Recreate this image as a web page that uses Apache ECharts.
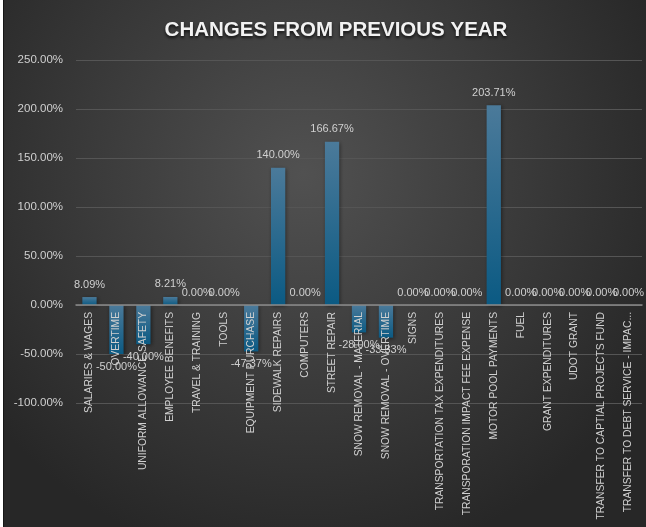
<!DOCTYPE html>
<html>
<head>
<meta charset="utf-8">
<script src="https://cdn.jsdelivr.net/npm/echarts@6/dist/echarts.min.js"></script>
<style>
  html, body { margin: 0; padding: 0; background: #ffffff; }
  #chart { position: absolute; left: 0; top: 0; width: 646px; height: 527px; }
  #edge { position: absolute; left: 0; top: 0; width: 3px; height: 527px; background: #ffffff; border-right: 1px solid #161616; z-index: 5; }
</style>
</head>
<body>
<div id="chart"></div>
<div id="edge"></div>
<script>
// Budget line items
const categories = [
  'SALARIES & WAGES',
  'OVERTIME',
  'UNIFORM ALLOWANCE SAFETY',
  'EMPLOYEE BENEFITS',
  'TRAVEL & TRAINING',
  'TOOLS',
  'EQUIPMENT PURCHASE',
  'SIDEWALK REPAIRS',
  'COMPUTERS',
  'STREET REPAIR',
  'SNOW REMOVAL - MATERIAL',
  'SNOW REMOVAL - OVERTIME',
  'SIGNS',
  'TRANSPORTATION TAX EXPENDITURES',
  'TRANSPORATION IMPACT FEE EXPENSE',
  'MOTOR POOL PAYMENTS',
  'FUEL',
  'GRANT EXPENDITURES',
  'UDOT GRANT',
  'TRANSFER TO CAPTIAL PROJECTS FUND',
  'TRANSFER TO DEBT SERVICE - IMPACT FEES'
];

// Percent change from the previous year
const changes = [
  8.09, -50.00, -40.00, 8.21, 0.00, 0.00, -47.37, 140.00, 0.00, 166.67,
  -28.00, -33.33, 0.00, 0.00, 0.00, 203.71, 0.00, 0.00, 0.00, 0.00, 0.00
];

// Value axis ticks
const yTicks = { min: -100, max: 250, step: 50 };

const FONT = 'Liberation Sans, Arial, sans-serif';
const pct = v => v.toFixed(2) + '%';

const GRID_TOP = 60, GRID_BOTTOM = 124, CHART_H = 527;
// distance from the bottom of the plot up to the zero line
const plotH = CHART_H - GRID_TOP - GRID_BOTTOM;
const zeroLift = plotH * (0 - yTicks.min) / (yTicks.max - yTicks.min);

const barData = changes.map(v => ({
  value: v,
  label: { position: v < 0 ? 'bottom' : 'top' }
}));

// the last category name is cut short with an ellipsis
const axisData = categories.map((c, i) =>
  i === categories.length - 1 ? { value: c, textStyle: { width: 207 } } : c
);

const chart = echarts.init(document.getElementById('chart'), null, { renderer: 'canvas' });
chart.setOption({
  backgroundColor: {
    type: 'radial', x: 0.47, y: 0.33, r: 0.75,
    colorStops: [
      { offset: 0, color: '#515151' },
      { offset: 0.55, color: '#3a3a3a' },
      { offset: 1, color: '#272727' }
    ]
  },
  title: {
    text: 'CHANGES FROM PREVIOUS YEAR',
    left: 331, top: 15, textAlign: 'center',
    textStyle: {
      color: '#f2f2f2', fontFamily: FONT, fontWeight: 'bold', fontSize: 20.5,
      textShadowColor: 'rgba(0,0,0,0.75)', textShadowBlur: 3, textShadowOffsetY: 2
    }
  },
  grid: { left: 76, right: 4, top: GRID_TOP, bottom: GRID_BOTTOM, containLabel: false, outerBoundsMode: 'none' },
  xAxis: {
    type: 'category',
    data: axisData,
    z: 10,
    offset: -zeroLift,
    axisLine: { onZero: false, lineStyle: { color: '#8a8a8a', width: 1.5 } },
    axisTick: { show: false },
    axisLabel: {
      interval: 0, rotate: 90, margin: 7, hideOverlap: false,
      color: '#d0d0d0', fontFamily: FONT, fontSize: 10.3,
      width: 216, overflow: 'truncate', ellipsis: '...'
    }
  },
  yAxis: {
    type: 'value',
    min: yTicks.min, max: yTicks.max, interval: yTicks.step,
    axisLine: { show: false },
    axisTick: { show: false },
    splitLine: { lineStyle: { color: '#555555', width: 1 } },
    axisLabel: {
      margin: 13, color: '#d0d0d0', fontFamily: FONT, fontSize: 11.5,
      formatter: v => pct(v)
    }
  },
  series: [{
    type: 'bar',
    data: barData,
    barWidth: '53%',
    itemStyle: {
      color: {
        type: 'linear', x: 0, y: 0, x2: 0, y2: 1,
        colorStops: [
          { offset: 0, color: '#4b7a9a' },
          { offset: 1, color: '#0b5a83' }
        ]
      },
      shadowColor: 'rgba(0,0,0,0.45)', shadowBlur: 4, shadowOffsetX: 1, shadowOffsetY: 1
    },
    label: {
      show: true, distance: 7,
      color: '#d0d0d0', fontFamily: FONT, fontSize: 11,
      formatter: p => pct(p.value)
    }
  }]
});
</script>
</body>
</html>
